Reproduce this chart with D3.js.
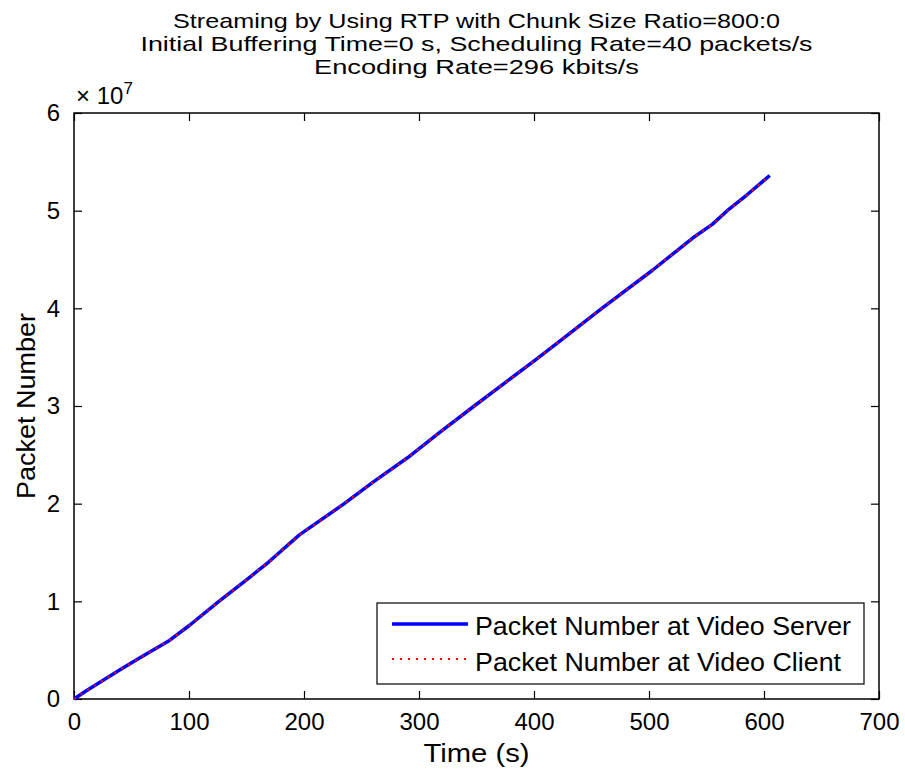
<!DOCTYPE html>
<html><head><meta charset="utf-8">
<script src="https://cdn.jsdelivr.net/npm/d3@7"></script>
<style>body{margin:0;background:#fff;} text{font-family:"Liberation Sans",Arial,sans-serif;fill:#000;}</style>
</head><body>
<svg id="c" width="905" height="773"></svg>
<script>
const titleLines = ["Streaming by Using RTP with Chunk Size Ratio=800:0",
  "Initial Buffering Time=0 s, Scheduling Rate=40 packets/s",
  "Encoding Rate=296 kbits/s"];
const xTicks = [0,100,200,300,400,500,600,700];
const yTicks = [0,1e7,2e7,3e7,4e7,5e7,6e7];
const yTickLabels = ["0","1","2","3","4","5","6"];
const timeS = [0,10,25,40,57,70,83,100,126,150,169,196,235,260,290,318,348,375,401,423,459,503,520,538,555,568,585,605];
const serverPk = [0,0.08e7,0.19e7,0.30e7,0.42e7,0.51e7,0.60e7,0.75e7,1.00e7,1.22e7,1.40e7,1.68e7,2.00e7,2.22e7,2.47e7,2.73e7,3.00e7,3.24e7,3.47e7,3.67e7,4.00e7,4.39e7,4.55e7,4.72e7,4.86e7,5.00e7,5.16e7,5.36e7];
const clientPk = serverPk.slice();
const seriesNames = ["Packet Number at Video Server","Packet Number at Video Client"];

const svg = d3.select("#c");
const L=74, R=879, T=113, B=699;
const x = d3.scaleLinear().domain([0,700]).range([L,R]);
const y = d3.scaleLinear().domain([0,6e7]).range([B,T]);
const FS = 24;

// titles
const titleW = [607, 672, 325];
titleLines.forEach((t,i)=>{
  svg.append("text").attr("x",(L+R)/2).attr("y",28+i*23).attr("text-anchor","middle")
    .attr("font-size",21).attr("textLength",titleW[i]).attr("lengthAdjust","spacingAndGlyphs").text(t);
});

// box
svg.append("rect").attr("x",L).attr("y",T).attr("width",R-L).attr("height",B-T)
  .attr("fill","none").attr("stroke","#000").attr("stroke-width",1.5);

const gx = svg.append("g").attr("transform",`translate(0,${B})`)
  .call(d3.axisBottom(x).tickValues(xTicks).tickSizeInner(-8).tickSizeOuter(0).tickPadding(14).tickFormat(d3.format("d")));
const gxt = svg.append("g").attr("transform",`translate(0,${T})`)
  .call(d3.axisTop(x).tickValues(xTicks).tickSizeInner(-8).tickSizeOuter(0).tickFormat(""));
const gy = svg.append("g").attr("transform",`translate(${L},0)`)
  .call(d3.axisLeft(y).tickValues(yTicks).tickSizeInner(-8).tickSizeOuter(0).tickPadding(14).tickFormat((d,i)=>yTickLabels[i]));
const gyr = svg.append("g").attr("transform",`translate(${R},0)`)
  .call(d3.axisRight(y).tickValues(yTicks).tickSizeInner(-8).tickSizeOuter(0).tickFormat(""));
[gx,gxt,gy,gyr].forEach(g=>{
  g.select(".domain").remove();
  g.selectAll(".tick line").attr("stroke","#000").attr("stroke-width",1.2);
  g.selectAll("text").attr("font-size",FS).attr("font-family","Liberation Sans, Arial, sans-serif").attr("fill","#000");
});

// exponent
const ex = svg.append("text").attr("x",76).attr("y",104).attr("font-size",FS);
ex.append("tspan").text("× 10");
ex.append("tspan").attr("dy",-10).attr("font-size",17).text("7");

// axis labels
svg.append("text").attr("x",(L+R)/2).attr("y",762).attr("text-anchor","middle").attr("font-size",26)
  .attr("textLength",106).attr("lengthAdjust","spacingAndGlyphs").text("Time (s)");
svg.append("text").attr("transform",`translate(35,${(T+B)/2}) rotate(-90)`).attr("text-anchor","middle").attr("font-size",26)
  .attr("textLength",186).attr("lengthAdjust","spacingAndGlyphs").text("Packet Number");

// lines
const line = d3.line().x(d=>x(d[0])).y(d=>y(d[1]));
svg.append("path").datum(timeS.map((t,i)=>[t,serverPk[i]])).attr("d",line)
  .attr("fill","none").attr("stroke","#0000ff").attr("stroke-width",3.5).attr("stroke-linejoin","round");
svg.append("path").datum(timeS.map((t,i)=>[t,clientPk[i]])).attr("d",line)
  .attr("fill","none").attr("stroke","#ff0000").attr("stroke-width",2).attr("stroke-dasharray","2,6");

// legend
const lg = svg.append("g");
lg.append("rect").attr("x",377).attr("y",603).attr("width",487).attr("height",81)
  .attr("fill","#fff").attr("stroke","#000").attr("stroke-width",1.2);
lg.append("line").attr("x1",392).attr("x2",468).attr("y1",624).attr("y2",624).attr("stroke","#0000ff").attr("stroke-width",3.5);
lg.append("line").attr("x1",392).attr("x2",468).attr("y1",659).attr("y2",659).attr("stroke","#ff0000").attr("stroke-width",2).attr("stroke-dasharray","2,6");
lg.append("text").attr("x",475).attr("y",635).attr("font-size",26).attr("textLength",376).attr("lengthAdjust","spacingAndGlyphs").text(seriesNames[0]);
lg.append("text").attr("x",475).attr("y",671).attr("font-size",26).attr("textLength",366).attr("lengthAdjust","spacingAndGlyphs").text(seriesNames[1]);
</script>
</body></html>
